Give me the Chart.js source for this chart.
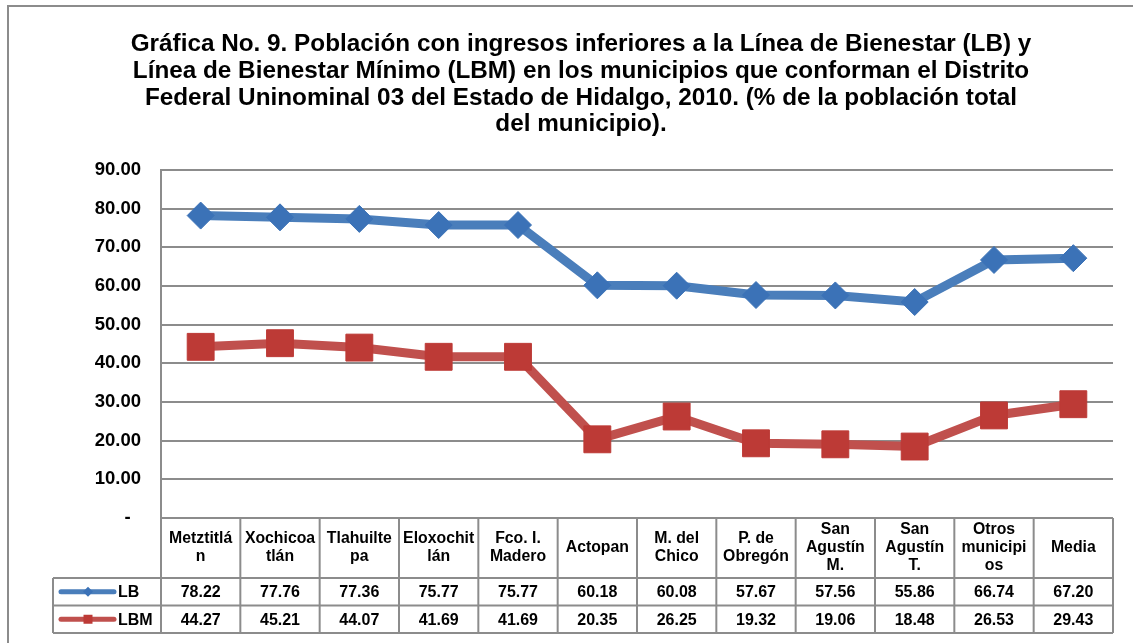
<!DOCTYPE html>
<html><head><meta charset="utf-8">
<script src="https://cdn.jsdelivr.net/npm/chart.js@4.4.1/dist/chart.umd.min.js"></script>
<style>html,body{margin:0;padding:0;background:#fff}#wrap{width:1133px;height:643px;position:relative}</style>
</head><body><div id="wrap"><canvas id="c" width="1133" height="643"></canvas></div>
<script>
const titleLines = [
  "Gráfica No. 9. Población con ingresos inferiores a la Línea de Bienestar (LB) y",
  "Línea de Bienestar Mínimo (LBM) en los municipios que conforman el Distrito",
  "Federal Uninominal 03 del Estado de Hidalgo, 2010. (% de la población total",
  "del municipio)."
];
const categories = [["Metztitlá","n"],["Xochicoa","tlán"],["Tlahuilte","pa"],["Eloxochit","lán"],["Fco. I.","Madero"],["Actopan"],["M. del","Chico"],["P. de","Obregón"],["San","Agustín","M."],["San","Agustín","T."],["Otros","municipi","os"],["Media"]];
const seriesNames = ["LB","LBM"];
const lbValues  = [78.22,77.76,77.36,75.77,75.77,60.18,60.08,57.67,57.56,55.86,66.74,67.20];
const lbmValues = [44.27,45.21,44.07,41.69,41.69,20.35,26.25,19.32,19.06,18.48,26.53,29.43];
const yMin = 0, yMax = 90, yStep = 10;

const FONT = '"Liberation Sans", Arial, sans-serif';
const GRID = '#8c8c8c';
const BLUE_LINE = '#4a7ebb', BLUE_MK = '#3b72b7';
const RED_LINE = '#c0504d', RED_MK = '#bd3a36';

const framePlugin = {
  id: 'frame',
  beforeDraw(chart) {
    const ctx = chart.ctx;
    ctx.save();
    ctx.fillStyle = '#fff';
    ctx.fillRect(0, 0, chart.width, chart.height);
    ctx.strokeStyle = GRID; ctx.lineWidth = 2;
    ctx.beginPath();
    ctx.moveTo(8, chart.height); ctx.lineTo(8, 6); ctx.lineTo(chart.width, 6);
    ctx.stroke();
    ctx.restore();
  }
};

const tablePlugin = {
  id: 'dataTable',
  afterDraw(chart) {
    const ctx = chart.ctx, a = chart.chartArea, xs = chart.scales.x;
    const n = categories.length, w = a.width / n;
    const top = a.bottom, hdrB = top + 60, r1B = hdrB + 27.5, r2B = r1B + 27.5;
    const legL = 53;
    ctx.save();
    ctx.strokeStyle = GRID; ctx.lineWidth = 2;
    ctx.beginPath();
    ctx.moveTo(a.left, top); ctx.lineTo(a.right, top);
    ctx.moveTo(legL, hdrB); ctx.lineTo(a.right, hdrB);
    ctx.moveTo(legL, r1B); ctx.lineTo(a.right, r1B);
    ctx.moveTo(legL, r2B); ctx.lineTo(a.right, r2B);
    for (let i = 0; i <= n; i++) { const x = a.left + i * w; ctx.moveTo(x, top); ctx.lineTo(x, r2B); }
    ctx.moveTo(legL, hdrB); ctx.lineTo(legL, r2B);
    ctx.stroke();

    ctx.fillStyle = '#000';
    ctx.textAlign = 'center'; ctx.textBaseline = 'middle';
    ctx.font = 'bold 15.8px ' + FONT;
    const lh = 18, hc = (top + hdrB) / 2;
    categories.forEach((lines, i) => {
      const cx = xs.getPixelForValue(i);
      lines.forEach((t, j) => ctx.fillText(t, cx, hc + (j - (lines.length - 1) / 2) * lh));
    });
    ctx.font = 'bold 16px ' + FONT;
    const rows = [lbValues, lbmValues];
    const rowC = [(hdrB + r1B) / 2, (r1B + r2B) / 2];
    rows.forEach((vals, r) => {
      vals.forEach((v, i) => ctx.fillText(v.toFixed(2), xs.getPixelForValue(i), rowC[r] + 1));
    });
    const keyCols = [[BLUE_LINE, BLUE_MK, 'diamond'], [RED_LINE, RED_MK, 'square']];
    keyCols.forEach((k, r) => {
      const y = rowC[r];
      ctx.strokeStyle = k[0]; ctx.lineWidth = 5; ctx.lineCap = 'round';
      ctx.beginPath(); ctx.moveTo(61, y); ctx.lineTo(114, y); ctx.stroke();
      ctx.fillStyle = k[1];
      ctx.beginPath();
      if (k[2] === 'diamond') {
        ctx.moveTo(88, y - 5); ctx.lineTo(93, y); ctx.lineTo(88, y + 5); ctx.lineTo(83, y); ctx.closePath();
      } else {
        ctx.rect(83.5, y - 4.5, 9, 9);
      }
      ctx.fill();
      ctx.fillStyle = '#000'; ctx.textAlign = 'left';
      ctx.font = 'bold 16px ' + FONT;
      ctx.fillText(seriesNames[r], 118, y + 1);
    });
    ctx.restore();
  }
};

new Chart(document.getElementById('c'), {
  type: 'line',
  data: {
    labels: categories,
    datasets: [
      { label: seriesNames[0], data: lbValues, borderColor: BLUE_LINE, borderWidth: 9,
        pointStyle: 'rectRot', pointRadius: 13.5, pointBackgroundColor: BLUE_MK, pointBorderColor: BLUE_MK,
        pointBorderWidth: 1, tension: 0, fill: false },
      { label: seriesNames[1], data: lbmValues, borderColor: RED_LINE, borderWidth: 9,
        pointStyle: 'rect', pointRadius: 19, pointBackgroundColor: RED_MK, pointBorderColor: RED_MK,
        pointBorderWidth: 1, tension: 0, fill: false }
    ]
  },
  options: {
    responsive: false, animation: false,
    layout: { padding: { left: 49, right: 20, top: 0, bottom: 125 } },
    plugins: {
      legend: { display: false },
      tooltip: { enabled: false },
      title: { display: true, text: titleLines, color: '#000',
        font: { family: FONT, size: 24.3, weight: 'bold', lineHeight: 1.1 },
        padding: { top: 31, bottom: 32.1 } }
    },
    scales: {
      x: { display: false, offset: true },
      y: {
        min: yMin, max: yMax,
        afterFit(s) { s.width = 112; },
        ticks: { stepSize: yStep, padding: 20, color: '#000',
          font: { family: FONT, size: 18.5, weight: 'bold' },
          callback: v => v === 0 ? '-  ' : Number(v).toFixed(2) },
        grid: { color: GRID, lineWidth: 2, drawTicks: false },
        border: { color: GRID, width: 2 }
      }
    }
  },
  plugins: [framePlugin, tablePlugin]
});
</script>
</body></html>
